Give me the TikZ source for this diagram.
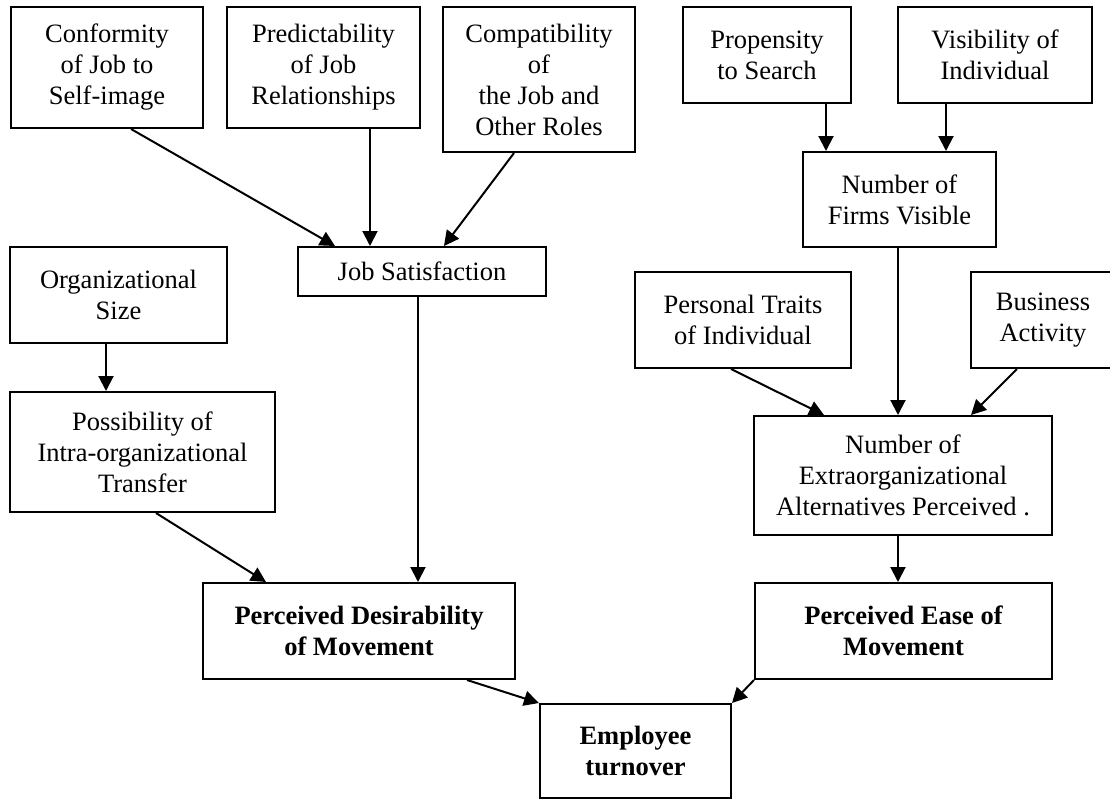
\documentclass[tikz,border=0pt]{standalone}
\usepackage{fontspec}
\setmainfont{Liberation Serif}
\usetikzlibrary{arrows.meta,calc}
\begin{document}
\begin{tikzpicture}[x=0.5pt,y=-0.5pt,
  box/.style={draw, line width=1pt, inner sep=0pt, align=center,
    font=\fontsize{13.25pt}{15.5pt}\selectfont},
  bbox/.style={box, font=\fontsize{13.25pt}{15.5pt}\selectfont\bfseries},
  sz/.style 2 args={minimum width=#1, minimum height=#2},
  arr/.style={line width=1pt, -{Triangle[length=7.5pt,width=7.5pt]}}]
\useasboundingbox (0,0) rectangle (1110,800);
\clip (0,0) rectangle (1110,800);
% top row
\node[box, sz={96pt}{60.5pt}] (b1) at (107,67.5) {Conformity\\of Job to\\Self-image};
\node[box, sz={96.5pt}{60.5pt}] (b2) at (323.5,67.5) {Predictability\\of Job\\Relationships};
\node[box, sz={96pt}{72.5pt}] (b3) at (539,79.5) {Compatibility\\of\\the Job and\\Other Roles};
\node[box, sz={84pt}{48pt}] (b4) at (767,55) {Propensity\\to Search};
\node[box, sz={97pt}{48pt}] (b5) at (995,55) {Visibility of\\Individual};
\node[box, sz={96.5pt}{47.5pt}] (b6) at (899.5,199.5) {Number of\\Firms Visible};
% middle
\node[box, sz={124pt}{24.5pt}] (js) at (422,271.5) {Job Satisfaction};
\node[box, sz={108.5pt}{48pt}] (org) at (118.5,295) {Organizational\\Size};
\node[box, sz={108pt}{48pt}] (pt) at (743,320) {Personal Traits\\of Individual};
\node[box, sz={72pt}{48pt}] (ba) at (1043,320) {Business\\Activity};
\node[box, sz={132.5pt}{60pt}] (poss) at (142.5,452) {Possibility of\\Intra-organizational\\Transfer};
\node[box, sz={149pt}{59.5pt}] (nea) at (903,475.5) {Number of\\Extraorganizational\\Alternatives Perceived .};
% bottom
\node[bbox, sz={156pt}{48pt}] (pdm) at (359,631) {Perceived Desirability\\of Movement};
\node[bbox, sz={148.5pt}{48pt}] (pem) at (903.5,631) {Perceived Ease of\\Movement};
\node[bbox, sz={95.5pt}{47pt}] (et) at (635.5,751) {Employee\\turnover};
% connectors
\draw[arr] ($(b1.south west)+(121,0)$) -- ($(js.north west)+(38,0)$);
\draw[arr] ($(b2.south west)+(144,0)$) -- ($(js.north west)+(73,0)$);
\draw[arr] ($(b3.south west)+(72,0)$) -- ($(js.north west)+(147,0)$);
\draw[arr] ($(b4.south west)+(144,0)$) -- ($(b6.north west)+(24,0)$);
\draw[arr] ($(b5.south west)+(49,0)$) -- ($(b6.north west)+(144,0)$);
\draw[arr] ($(b6.south west)+(96,0)$) -- ($(nea.north west)+(145,0)$);
\draw[arr] ($(org.south west)+(97,0)$) -- ($(poss.north west)+(97,0)$);
\draw[arr] ($(js.south west)+(121,0)$) -- ($(pdm.north west)+(216,0)$);
\draw[arr] ($(poss.south west)+(147,0)$) -- ($(pdm.north west)+(64,0)$);
\draw[arr] ($(pt.south west)+(97,0)$) -- ($(nea.north west)+(71,0)$);
\draw[arr] ($(ba.south west)+(47,0)$) -- ($(nea.north west)+(218,0)$);
\draw[arr] ($(nea.south west)+(145,0)$) -- ($(pem.north west)+(144,0)$);
\draw[arr] ($(pdm.south west)+(265,0)$) -- (et.north west);
\draw[arr] (pem.south west) -- (et.north east);
\end{tikzpicture}
\end{document}
